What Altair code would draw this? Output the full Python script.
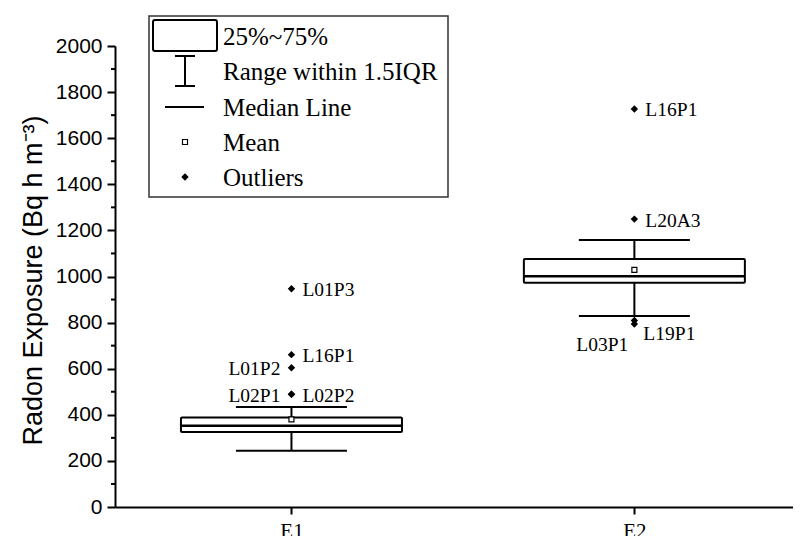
import altair as alt
import pandas as pd

# ---- data ----
groups = ["E1", "E2"]
q1 = [325, 973]
median = [353, 1001]
q3 = [388, 1076]
whisker_lo = [244, 829]
whisker_hi = [434, 1158]
means = [380, 1029]

outlier_group = ["E1", "E1", "E1", "E1", "E1", "E2", "E2", "E2", "E2"]
outlier_value = [947, 661, 604, 489, 489, 1727, 1249, 809, 794]
outlier_label = ["L01P3", "L16P1", "L01P2", "L02P1", "L02P2", "L16P1", "L20A3", "L19P1", "L03P1"]
label_side = ["right", "right", "left", "left", "right", "right", "right", "below-right", "below-left"]

y_ticks = list(range(0, 2001, 200))
y_minor = list(range(100, 2000, 200))

legend_labels = ["25%~75%", "Range within 1.5IQR", "Median Line", "Mean", "Outliers"]

TITLE = "Radon Exposure (Bq h m\u207b\u00b3)"
SERIF = "Liberation Serif"
SANS = "Liberation Sans"

# ---- tables ----
box_df = pd.DataFrame({
    "group": groups,
    "pos": [i + 1 for i in range(len(groups))],
    "q1": q1, "median": median, "q3": q3,
    "lo": whisker_lo, "hi": whisker_hi, "mean": means,
})
out_df = pd.DataFrame({
    "group": outlier_group,
    "pos": [groups.index(g) + 1 for g in outlier_group],
    "value": outlier_value,
    "label": outlier_label,
    "side": label_side,
})
minor_df = pd.DataFrame({"v": y_minor})
leg_df = pd.DataFrame({"label": legend_labels, "row": list(range(len(legend_labels)))})
one = pd.DataFrame({"a": [0]})

xs = alt.Scale(domain=[0.5, 2.448], nice=False, zero=False)
ys = alt.Scale(domain=[0, 2000], nice=False, zero=True)

xaxis = alt.Axis(
    values=[1, 2], labelExpr=f"{groups}[datum.value - 1]",
    tickSize=7, tickWidth=2, tickColor="black", domainWidth=2, domainColor="black",
    labelFont=SERIF, labelFontSize=21, labelColor="black", labelPadding=6, grid=False,
)
yaxis = alt.Axis(
    values=y_ticks, format="d", tickSize=8, tickWidth=2, tickColor="black", domainWidth=2,
    domainColor="black", labelFont=SANS, labelFontSize=21, labelColor="black",
    labelPadding=5, grid=False, titleFont=SANS, titleFontSize=27, titleFontWeight="normal",
    titleColor="black", titleX=-82, titleY=234, titleAlign="center", titleBaseline="middle",
    titleAngle=270,
)


def X(field):
    return alt.X(field, type="quantitative", scale=xs, axis=xaxis, title=None)


def Y(field):
    return alt.Y(field, type="quantitative", scale=ys, axis=yaxis, title=TITLE)


base = alt.Chart(box_df)

whisk = base.mark_rule(color="black", strokeWidth=2).encode(x=X("pos"), y=Y("lo"), y2="hi")
caps_lo = base.mark_tick(orient="horizontal", size=111, thickness=2, color="black", opacity=1).encode(x=X("pos"), y=Y("lo"))
caps_hi = base.mark_tick(orient="horizontal", size=111, thickness=2, color="black", opacity=1).encode(x=X("pos"), y=Y("hi"))
box = base.mark_bar(width=221, fill="white", stroke="black", strokeWidth=2, cornerRadius=1).encode(x=X("pos"), y=Y("q1"), y2="q3")
med = base.mark_tick(orient="horizontal", size=221, thickness=2.5, color="black", opacity=1).encode(x=X("pos"), y=Y("median"))
mean = base.mark_point(shape="square", size=25, filled=False, color="black", strokeWidth=1.2, fill="white", opacity=1).encode(x=X("pos"), y=Y("mean"))

minor = alt.Chart(minor_df).mark_rule(color="black", strokeWidth=2).encode(
    x=alt.value(-4), x2=alt.value(0), y=Y("v"))

outs = alt.Chart(out_df)
pts = outs.mark_point(shape="diamond", size=55, filled=True, color="black", opacity=1).encode(x=X("pos"), y=Y("value"))


def label_layer(side, align, dx, dy):
    return outs.transform_filter(alt.datum.side == side).mark_text(
        align=align, baseline="middle", dx=dx, dy=dy, font=SERIF, fontSize=19.5, color="black"
    ).encode(x=X("pos"), y=Y("value"), text="label")


lab_r = label_layer("right", "left", 11, 1.5)
lab_l = label_layer("left", "right", -11, 1.5)
lab_br = label_layer("below-right", "left", 9, 13)
lab_bl = label_layer("below-left", "right", -6, 21)

# ---- legend (drawn in pixel space) ----
lg = alt.Chart(one)
frame = lg.mark_rect(fill="white", stroke="#333", strokeWidth=1.5).encode(
    x=alt.value(34), x2=alt.value(333), y=alt.value(-30), y2=alt.value(151))
lg_box = lg.mark_rect(fill="white", stroke="black", strokeWidth=2, cornerRadius=2).encode(
    x=alt.value(38), x2=alt.value(102), y=alt.value(-26), y2=alt.value(5))
lg_w = lg.mark_rule(color="black", strokeWidth=2).encode(x=alt.value(70), y=alt.value(10), y2=alt.value(40))
lg_c1 = lg.mark_rule(color="black", strokeWidth=2).encode(x=alt.value(60), x2=alt.value(80), y=alt.value(10))
lg_c2 = lg.mark_rule(color="black", strokeWidth=2).encode(x=alt.value(60), x2=alt.value(80), y=alt.value(40))
lg_med = lg.mark_rule(color="black", strokeWidth=2).encode(x=alt.value(50), x2=alt.value(89), y=alt.value(61))
lg_mean = lg.mark_point(shape="square", size=25, filled=False, color="black", strokeWidth=1.2, fill="white", opacity=1).encode(
    x=alt.value(70), y=alt.value(96))
lg_out = lg.mark_point(shape="diamond", size=55, filled=True, color="black", opacity=1).encode(
    x=alt.value(70), y=alt.value(131))
lg_text = alt.Chart(leg_df).transform_calculate(py="-1 + datum.row * 35.3").mark_text(
    align="left", baseline="alphabetic", font=SERIF, fontSize=25, color="black"
).encode(x=alt.value(108), y=alt.Y("py:Q", scale=None), text="label")

chart = alt.layer(
    minor, whisk, caps_lo, caps_hi, box, med, mean, pts, lab_r, lab_l, lab_br, lab_bl,
    frame, lg_box, lg_w, lg_c1, lg_c2, lg_med, lg_mean, lg_out, lg_text,
).properties(
    width=678, height=461,
    padding={"left": 107, "top": 38, "right": 0, "bottom": 29},
    autosize=alt.AutoSizeParams(type="none"),
).configure_view(strokeWidth=0)

chart.save("out.html", embed_options={"renderer": "svg", "actions": False})
